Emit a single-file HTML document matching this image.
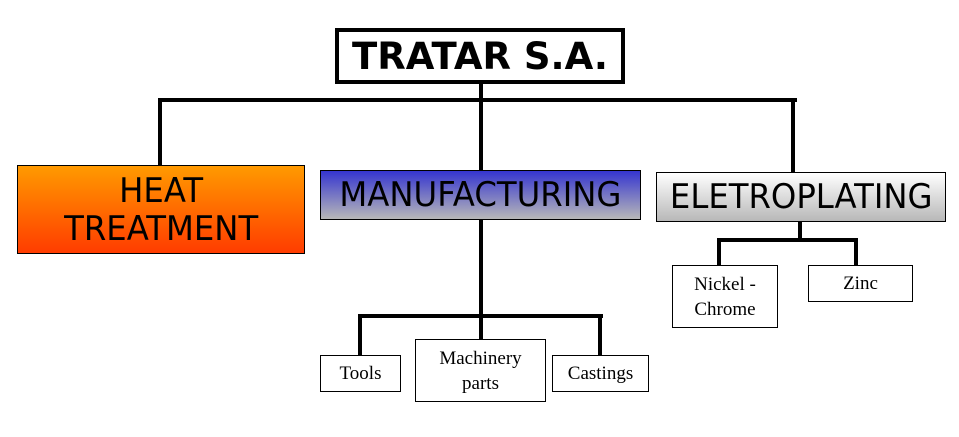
<!DOCTYPE html>
<html><head><style>
body{margin:0;width:959px;height:437px;background:#fff;position:relative;overflow:hidden;font-family:"Liberation Sans",sans-serif}
.b{position:absolute;box-sizing:border-box;border:1px solid #000;display:flex;align-items:center;justify-content:center;text-align:center}
.l{position:absolute;background:#000}
.s{font-family:"Liberation Serif",serif;font-size:19px;line-height:25px;background:#fff}
.m{font-family:"DejaVu Sans",sans-serif;font-size:34px;line-height:42px;display:inline-block;transform:scaleX(0.95);white-space:nowrap}
</style></head><body>
<div class="l" style="left:479px;top:82px;width:4px;height:88px"></div>
<div class="l" style="left:158px;top:98px;width:639px;height:4px"></div>
<div class="l" style="left:158px;top:98px;width:4px;height:68px"></div>
<div class="l" style="left:791px;top:98px;width:4px;height:74px"></div>
<div class="b" style="left:335px;top:28px;width:290px;height:56px;border:4px solid #000;background:#fff"><span style="font-family:'DejaVu Sans',sans-serif;font-weight:bold;font-size:37px;display:inline-block;transform:scaleX(1.0)">TRATAR S.A.</span></div>
<div class="b" style="left:17px;top:165px;width:288px;height:89px;background:linear-gradient(#ff9a00,#ff3c00)"><span class="m" style="line-height:38px">HEAT<br>TREATMENT</span></div>
<div class="b" style="left:320px;top:170px;width:321px;height:50px;background:linear-gradient(#3535d0,#b8b8b8)"><span class="m">MANUFACTURING</span></div>
<div class="b" style="left:656px;top:172px;width:290px;height:50px;background:linear-gradient(#fff,#b8b8b8)"><span class="m">ELETROPLATING</span></div>
<div class="l" style="left:479px;top:219px;width:4px;height:121px"></div>
<div class="l" style="left:358px;top:314px;width:245px;height:4px"></div>
<div class="l" style="left:358px;top:314px;width:4px;height:42px"></div>
<div class="l" style="left:598px;top:314px;width:4px;height:42px"></div>
<div class="l" style="left:798px;top:221px;width:4px;height:20px"></div>
<div class="l" style="left:717px;top:238px;width:141px;height:4px"></div>
<div class="l" style="left:717px;top:238px;width:4px;height:28px"></div>
<div class="l" style="left:854px;top:238px;width:4px;height:28px"></div>
<div class="b s" style="left:320px;top:355px;width:81px;height:37px">Tools</div>
<div class="b s" style="left:415px;top:339px;width:131px;height:63px">Machinery<br>parts</div>
<div class="b s" style="left:552px;top:355px;width:97px;height:37px">Castings</div>
<div class="b s" style="left:672px;top:265px;width:106px;height:63px">Nickel -<br>Chrome</div>
<div class="b s" style="left:808px;top:265px;width:105px;height:37px;align-items:flex-start;padding-top:5px">Zinc</div>
</body></html>
